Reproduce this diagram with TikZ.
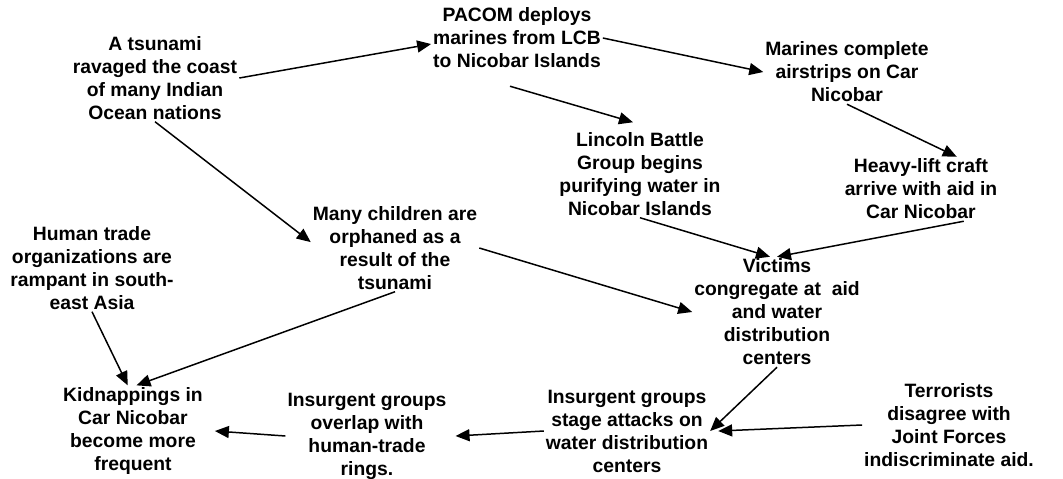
\documentclass[tikz,border=0pt]{standalone}
\usepackage{fontspec}
\setmainfont{Liberation Sans}
\usetikzlibrary{arrows.meta}

\tikzset{
  event/.style={align=center, inner sep=1pt, font=\bfseries\fontsize{11}{13.1}\selectfont},
  cause/.style={-{Triangle[length=0.28cm,width=0.24cm]}, line width=0.85pt}
}

\begin{document}
\begin{tikzpicture}[x=0.02cm,y=-0.02cm]

\useasboundingbox (0,0) rectangle (1063,478);

% Ereignisse
\node[event] (tsunami) at (155,78) {A tsunami\\ravaged the coast\\of many Indian\\Ocean nations};
\node[event] (pacom) at (517,38) {PACOM deploys\\marines from LCB\\to Nicobar Islands};
\node[event] (marines) at (847,72) {Marines complete\\airstrips on Car\\Nicobar};
\node[event] (lincoln) at (640,174) {Lincoln Battle\\Group begins\\purifying water in\\Nicobar Islands};
\node[event] (heavy) at (921,189) {Heavy-lift craft\\arrive with aid in\\Car Nicobar};
\node[event] (children) at (395,248) {Many children are\\orphaned as a\\result of the\\tsunami};
\node[event] (trade) at (92,268) {Human trade\\organizations are\\rampant in south-\\east Asia};
\node[event] (victims) at (777,312) {Victims\\congregate at\ \ aid\\and water\\distribution\\centers};
\node[event] (kidnap) at (133,431) {Kidnappings in\\Car Nicobar\\become more\\frequent};
\node[event] (overlap) at (367,436) {Insurgent groups\\overlap with\\human-trade\\rings.};
\node[event] (stage) at (627,431) {Insurgent groups\\stage attacks on\\water distribution\\centers};
\node[event] (terror) at (949,425) {Terrorists\\disagree with\\Joint Forces\\indiscriminate aid.};

% Pfeile
\draw[cause] (tsunami.east) -- (pacom.184);
\draw[cause] (tsunami.south) -- (children.176);
\draw[cause] (pacom.east) -- (marines.west);
\draw[cause] ([shift={(-7,16)}]pacom.south) -- ([shift={(-7,-8)}]lincoln.north);
\draw[cause] (marines.south) -- (heavy.42);
\draw[cause] (lincoln.south) -- ([xshift=-4]victims.north);
\draw[cause] (heavy.-37) -- (victims.north);
\draw[cause] (children.east) -- (victims.west);
\draw[cause] (children.south) -- ([xshift=2]kidnap.north);
\draw[cause] (trade.south) -- ([xshift=-3]kidnap.north);
\draw[cause] (overlap.west) -- ([shift={(10,0)}]kidnap.east);
\draw[cause] (stage.west) -- ([shift={(7,0)}]overlap.east);
\draw[cause] (victims.south) -- (stage.east);
\draw[cause] (terror.west) -- ([shift={(8,0)}]stage.east);

\end{tikzpicture}
\end{document}
